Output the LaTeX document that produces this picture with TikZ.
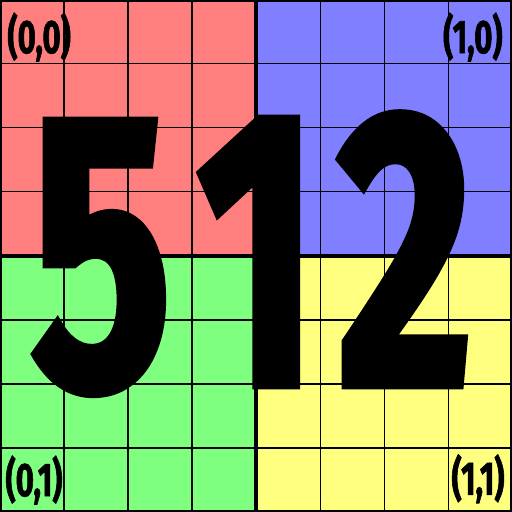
\documentclass[tikz,border=0pt]{standalone}
\usepackage{fontspec}
\usepackage{xcolor}
\usepackage{tikz}
\usetikzlibrary{positioning}
\newfontfamily\digitfont[FakeStretch=0.66,FakeBold=1.8]{Fira Sans Bold}
\newfontfamily\labelfont[FakeStretch=0.66,FakeBold=1.2]{Fira Sans Bold}
\definecolor{quadred}{HTML}{FF7F7F}
\definecolor{quadblue}{HTML}{7F7FFF}
\definecolor{quadgreen}{HTML}{7FFF7F}
\definecolor{quadyellow}{HTML}{FFFF7F}

\begin{document}
\begin{tikzpicture}[
    thinline/.style={draw, black, line width=0.45pt},
    thickline/.style={draw, black, line width=1.4pt},
    bigdigit/.style={inner sep=0pt, anchor=base, text=black, font=\digitfont\fontsize{176}{176}\selectfont},
    corner/.style={inner sep=0pt, text=black, font=\labelfont\fontsize{21}{21}\selectfont}]

    \useasboundingbox (0,0) rectangle (8,8);

    % quadrants
    \fill [quadred] (0,4) rectangle (4,8);
    \fill [quadblue] (4,4) rectangle (8,8);
    \fill [quadgreen] (0,0) rectangle (4,4);
    \fill [quadyellow] (4,0) rectangle (8,4);

    % grid
    \foreach \k in {1,2,3,5,6,7} {
        \draw [thinline] (\k,0) -- (\k,8);
        \draw [thinline] (0,\k) -- (8,\k);
    }
    \draw [thickline] (4,0) -- (4,8);
    \draw [thickline] (0,4) -- (8,4);
    \draw [black, line width=1.8pt] (0,0) rectangle (8,8);

    % big number
    \node [bigdigit] (five) at (1.58,1.94) {5};
    \node [bigdigit] (one) at (4.02,1.97) {1};
    \node [bigdigit] (two) at (6.33,1.97) {2};

    % corner labels
    \node [corner, anchor=north west] (topleft) at (0.11,7.81) {(0,0)};
    \node [corner, anchor=north east] (topright) at (7.86,7.81) {(1,0)};
    \node [corner, anchor=south west] (bottomleft) at (0.08,0.11) {(0,1)};
    \node [corner, anchor=south east] (bottomright) at (7.89,0.13) {(1,1)};
\end{tikzpicture}
\end{document}
